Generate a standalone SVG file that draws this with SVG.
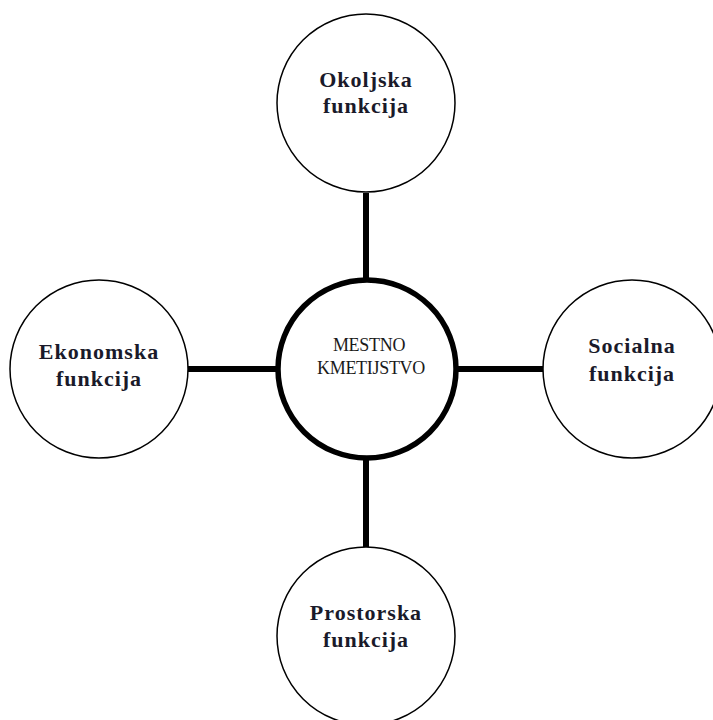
<svg xmlns="http://www.w3.org/2000/svg" width="713" height="720" viewBox="0 0 713 720">
<style>
.node{fill:#fff;stroke:#000;stroke-width:1.5}
.hub{fill:#fff;stroke:#000;stroke-width:5.5}
.conn{stroke:#000;stroke-width:6;fill:none}
.lbl{font-family:"Liberation Serif","Times New Roman",serif;font-weight:bold;font-size:22px;letter-spacing:1px;fill:#1a1a2a;text-anchor:middle}
.hl{font-family:"Liberation Serif","Times New Roman",serif;font-size:18px;fill:#1a1a1a;text-anchor:middle;letter-spacing:-0.3px}
</style>
<rect width="713" height="720" fill="#fff"/>
<g id="connectors">
<line class="conn" x1="366" y1="193" x2="366" y2="280"/>
<line class="conn" x1="366" y1="458" x2="366" y2="547"/>
<line class="conn" x1="188" y1="369" x2="276" y2="369"/>
<line class="conn" x1="458" y1="369" x2="543" y2="369"/>
</g>
<g id="hub">
<circle class="hub" cx="367" cy="369" r="89"/>
<text class="hl" x="369" y="351">MESTNO</text>
<text class="hl" x="371" y="374">KMETIJSTVO</text>
</g>
<g id="okoljska">
<circle class="node" cx="366" cy="103" r="89"/>
<text class="lbl" x="366" y="87">Okoljska</text>
<text class="lbl" x="366" y="113">funkcija</text>
</g>
<g id="ekonomska">
<circle class="node" cx="99" cy="369" r="89"/>
<text class="lbl" x="99" y="359">Ekonomska</text>
<text class="lbl" x="99" y="386">funkcija</text>
</g>
<g id="socialna">
<circle class="node" cx="632" cy="369" r="89"/>
<text class="lbl" x="632" y="353">Socialna</text>
<text class="lbl" x="632" y="381">funkcija</text>
</g>
<g id="prostorska">
<circle class="node" cx="366" cy="636" r="89"/>
<text class="lbl" x="366" y="620">Prostorska</text>
<text class="lbl" x="366" y="647">funkcija</text>
</g>
</svg>
